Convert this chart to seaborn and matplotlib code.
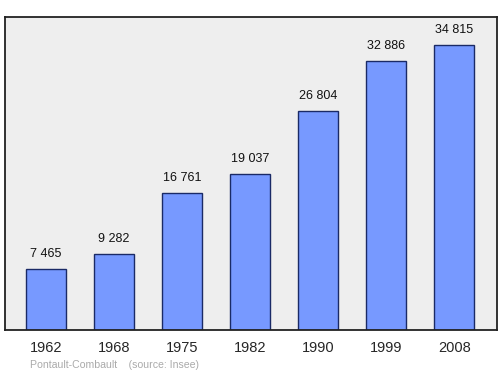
import pandas as pd
import matplotlib
matplotlib.use("Agg")
import matplotlib.pyplot as plt
import seaborn as sns

years = ["1962", "1968", "1975", "1982", "1990", "1999", "2008"]
population = [7465, 9282, 16761, 19037, 26804, 32886, 34815]
value_labels = ["7 465", "9 282", "16 761", "19 037", "26 804", "32 886", "34 815"]

df = pd.DataFrame({"year": years, "pop": population})

sns.set_style("white")
plt.rcParams['font.family'] = ['Liberation Sans', 'DejaVu Sans']

fig = plt.figure(figsize=(5, 3.74), dpi=100)
ax = fig.add_axes([0.01, 0.118, 0.984, 0.837])
ax.set_facecolor("#eeeeee")

sns.barplot(data=df, x="year", y="pop", color="#7799ff", saturation=1,
            width=0.59, edgecolor="#1a2a66", linewidth=1.0, ax=ax)

# value above each bar
for i, (v, lab) in enumerate(zip(population, value_labels)):
    ax.text(i, v + 1100, lab, ha="center", va="bottom", fontsize=9, color="#111111")

ax.set_xlim(-0.6, 6.63)
ax.set_ylim(0, max(population) * 1.1)
ax.set_yticks([])
ax.set_xlabel("")
ax.set_ylabel("")
ax.tick_params(axis="x", length=0, labelsize=10.5, pad=8)
for s in ax.spines.values():
    s.set_visible(True)
    s.set_color("#222222")
    s.set_linewidth(1.3)

fig.text(0.06, 0.015, "Pontault-Combault    (source: Insee)", fontsize=7.6, color="#aaaaaa")

fig.savefig("out.png", dpi=100)
